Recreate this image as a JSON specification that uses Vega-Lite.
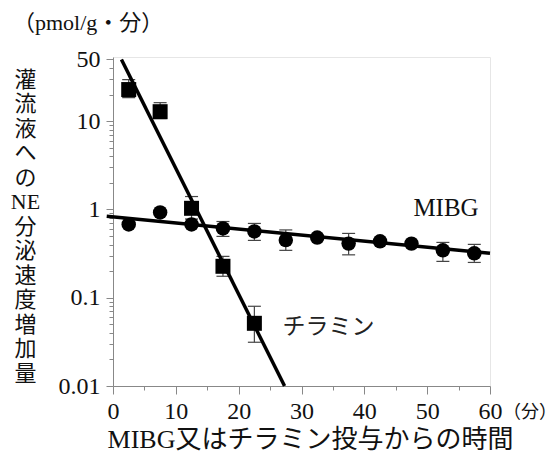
{
  "$schema": "https://vega.github.io/schema/vega-lite/v6.json",
  "width": 377,
  "height": 329,
  "autosize": {"type": "none"},
  "padding": {"left": 113, "top": 57, "right": 68, "bottom": 84},
  "background": "white",
  "config": {
    "view": {"stroke": "#e6e6e6", "strokeWidth": 1},
    "font": "Liberation Serif, Noto Sans CJK JP"
  },
  "title": {
    "text": "（pmol/g・分）",
    "anchor": "start",
    "frame": "group",
    "dx": -100,
    "dy": 32,
    "offset": 34,
    "baseline": "middle",
    "fontSize": 22,
    "fontWeight": "normal",
    "color": "#111111",
    "font": "Liberation Serif, Noto Sans CJK JP"
  },
  "datasets": {
    "mibg": [
      {"x": 2.5, "y": 0.676}, {"x": 7.5, "y": 0.925}, {"x": 12.5, "y": 0.676},
      {"x": 17.5, "y": 0.61}, {"x": 22.5, "y": 0.564}, {"x": 27.5, "y": 0.45},
      {"x": 32.5, "y": 0.48}, {"x": 37.5, "y": 0.41}, {"x": 42.5, "y": 0.435},
      {"x": 47.5, "y": 0.41}, {"x": 52.5, "y": 0.344}, {"x": 57.5, "y": 0.318}
    ],
    "tyr": [
      {"x": 2.5, "y": 22.8}, {"x": 7.5, "y": 12.8}, {"x": 12.5, "y": 1.03},
      {"x": 17.5, "y": 0.227}, {"x": 22.5, "y": 0.0513}
    ],
    "errs": [
      {"x": 2.5, "lo": 18.5, "hi": 29.6},
      {"x": 7.5, "lo": 10.7, "hi": 16.2},
      {"x": 12.5, "lo": 0.78, "hi": 1.4},
      {"x": 17.5, "lo": 0.175, "hi": 0.294},
      {"x": 22.5, "lo": 0.0313, "hi": 0.08},
      {"x": 17.5, "lo": 0.495, "hi": 0.73},
      {"x": 22.5, "lo": 0.446, "hi": 0.694},
      {"x": 27.5, "lo": 0.344, "hi": 0.586},
      {"x": 37.5, "lo": 0.306, "hi": 0.535},
      {"x": 52.5, "lo": 0.258, "hi": 0.423},
      {"x": 57.5, "lo": 0.251, "hi": 0.402}
    ],
    "fits": [
      {"series": "MIBG", "x": -1, "y": 0.836},
      {"series": "MIBG", "x": 60, "y": 0.318},
      {"series": "チラミン", "x": 1.34, "y": 50},
      {"series": "チラミン", "x": 27.3, "y": 0.01}
    ],
    "lab1": [{"x": 53, "y": 1.03, "label": "MIBG"}],
    "lab2": [{"x": 34.3, "y": 0.0464, "label": "チラミン"}],
    "unit": [{"x": 60, "y": 0.01, "label": "（分）"}]
  },
  "encoding": {
    "x": {
      "field": "x",
      "type": "quantitative",
      "scale": {"domain": [0, 60], "nice": false, "zero": false},
      "axis": {
        "values": [0, 5, 10, 15, 20, 25, 30, 35, 40, 45, 50, 55, 60],
        "labelExpr": "datum.value % 10 == 0 ? '' + datum.value : ''",
        "tickSize": {"condition": {"test": "datum.value % 10 == 0", "value": 8}, "value": 4},
        "grid": false,
        "domainColor": "#888888",
        "tickColor": "#888888",
        "labelFontSize": 24,
        "labelColor": "#111111",
        "labelPadding": 5,
        "labelOverlap": false,
        "labelFlush": false,
        "title": "MIBG又はチラミン投与からの時間",
        "titleFontSize": 26,
        "titleFontWeight": "normal",
        "titleColor": "#111111",
        "titleX": 197,
        "titleY": 53,
        "titleBaseline": "middle",
        "titleAlign": "center"
      }
    },
    "y": {
      "field": "y",
      "type": "quantitative",
      "scale": {"type": "log", "domain": [0.01, 53.3], "nice": false},
      "axis": {
        "values": [0.01, 0.02, 0.03, 0.04, 0.05, 0.06, 0.07, 0.08, 0.09, 0.1, 0.2, 0.3, 0.4, 0.5, 0.6, 0.7, 0.8, 0.9, 1, 2, 3, 4, 5, 6, 7, 8, 9, 10, 20, 30, 40, 50],
        "labelExpr": "indexof([0.01, 0.1, 1, 10, 50], datum.value) >= 0 ? '' + datum.value : ''",
        "tickSize": {"condition": {"test": "indexof([0.01, 0.1, 1, 10, 50], datum.value) >= 0", "value": 7}, "value": 4},
        "grid": false,
        "domainColor": "#888888",
        "tickColor": "#888888",
        "labelFontSize": 24,
        "labelColor": "#111111",
        "labelPadding": 6,
        "labelOverlap": false,
        "labelFlush": false,
        "title": ["灌", "流", "液", "へ", "の", "NE", "分", "泌", "速", "度", "増", "加", "量"],
        "titleFontSize": 22,
        "titleFontWeight": "normal",
        "titleColor": "#111111",
        "titleAngle": 0,
        "titleLineHeight": 24.5,
        "titleX": -88,
        "titleY": 12,
        "titleAlign": "center",
        "titleBaseline": "top"
      }
    }
  },
  "layer": [
    {
      "data": {"name": "errs"},
      "mark": {"type": "rule", "color": "#444444", "strokeWidth": 1.2},
      "encoding": {
        "y": {"field": "lo", "type": "quantitative"},
        "y2": {"field": "hi"}
      }
    },
    {
      "data": {"name": "errs"},
      "mark": {"type": "tick", "orient": "horizontal", "size": 13, "thickness": 1.2, "color": "#444444", "opacity": 1},
      "encoding": {"y": {"field": "lo", "type": "quantitative"}}
    },
    {
      "data": {"name": "errs"},
      "mark": {"type": "tick", "orient": "horizontal", "size": 13, "thickness": 1.2, "color": "#444444", "opacity": 1},
      "encoding": {"y": {"field": "hi", "type": "quantitative"}}
    },
    {
      "data": {"name": "fits"},
      "mark": {"type": "line", "color": "#000000", "strokeWidth": 3.5},
      "encoding": {"detail": {"field": "series"}}
    },
    {
      "data": {"name": "mibg"},
      "mark": {"type": "point", "shape": "circle", "filled": true, "size": 210, "color": "#000000", "opacity": 1}
    },
    {
      "data": {"name": "tyr"},
      "mark": {"type": "point", "shape": "square", "filled": true, "size": 225, "color": "#000000", "opacity": 1}
    },
    {
      "data": {"name": "lab1"},
      "mark": {"type": "text", "fontSize": 25, "align": "center", "baseline": "middle", "color": "#111111"},
      "encoding": {"text": {"field": "label"}}
    },
    {
      "data": {"name": "lab2"},
      "mark": {"type": "text", "fontSize": 23, "align": "center", "baseline": "middle", "color": "#222222"},
      "encoding": {"text": {"field": "label"}}
    },
    {
      "data": {"name": "unit"},
      "mark": {"type": "text", "fontSize": 18, "align": "left", "baseline": "middle", "dx": 13, "dy": 27, "color": "#111111"},
      "encoding": {"text": {"field": "label"}}
    }
  ]
}
